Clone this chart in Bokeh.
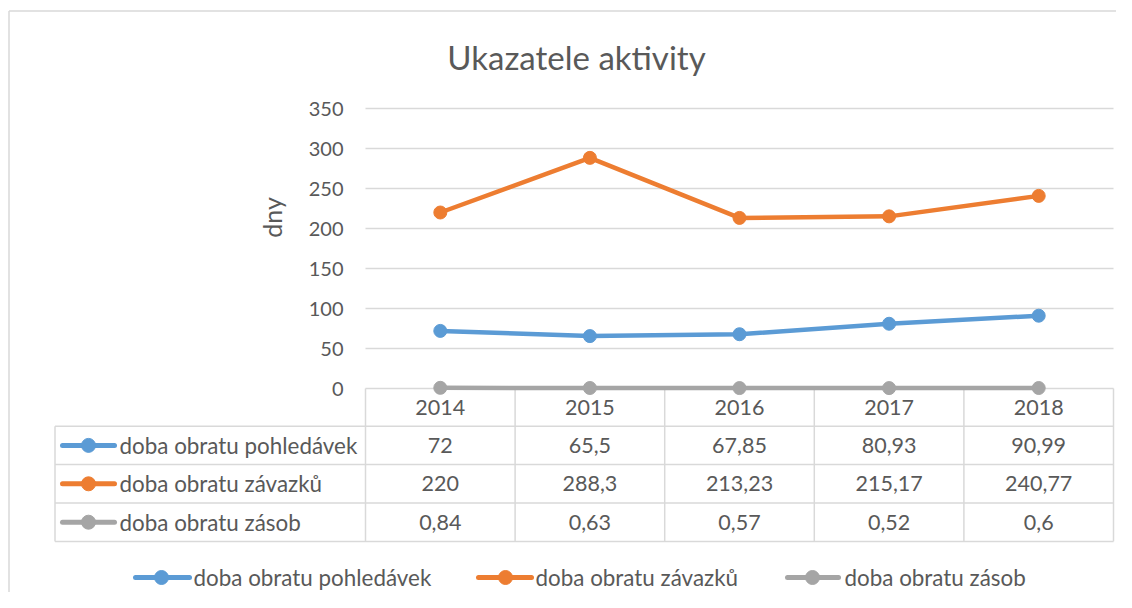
import math
from bokeh.plotting import figure
from bokeh.models import Range1d
from bokeh.core.properties import value
from bokeh.embed import file_html
from bokeh.resources import INLINE

# ---------------- data ----------------
years = [2014, 2015, 2016, 2017, 2018]
year_labels = ["2014", "2015", "2016", "2017", "2018"]
series_names = ["doba obratu pohledávek", "doba obratu závazků", "doba obratu zásob"]
pohledavky = [72, 65.5, 67.85, 80.93, 90.99]
zavazky = [220, 288.3, 213.23, 215.17, 240.77]
zasoby = [0.84, 0.63, 0.57, 0.52, 0.6]
series_values = [pohledavky, zavazky, zasoby]
series_colors = ["#5b9bd5", "#ed7d31", "#a5a5a5"]
y_ticks = [0, 50, 100, 150, 200, 250, 300, 350]
title_text = "Ukazatele aktivity"
y_label = "dny"

# ---------------- layout (picture pixels) ----------------
W, H = 1116, 592
OX, OY = 0, 0
PLOT_L, PLOT_R = 365, 1113
Y0_PX, YTOP_PX = 388, 108
PX_PER_YEAR = (PLOT_R - PLOT_L) / len(years)
PX_PER_VAL = (Y0_PX - YTOP_PX) / (y_ticks[-1] - y_ticks[0])

def xd(px):
    return years[0] - 0.5 + (px - PLOT_L) / PX_PER_YEAR

def yd(py):
    return (Y0_PX - py) / PX_PER_VAL

FONT = value("Lato")
TXT = "#595959"
GRID = "#d9d9d9"

p = figure(width=W, height=H, output_backend="svg", toolbar_location=None,
           x_range=Range1d(xd(OX), xd(OX + W)), y_range=Range1d(yd(OY + H), yd(OY)),
           x_axis_location=None, y_axis_location=None, min_border=0)
p.grid.visible = False
p.outline_line_color = None
p.background_fill_color = "white"
p.border_fill_color = "white"

# outer chart border (left and top visible)
p.segment(x0=[xd(8.5), xd(8.5)], y0=[yd(10.5), yd(10.5)],
          x1=[xd(8.5), xd(OX + W + 5)], y1=[yd(OY + H + 5), yd(10.5)],
          line_color=GRID, line_width=1.5)

# title
p.text(x=[xd(576)], y=[yd(56)], text=[title_text], text_font=FONT, text_font_size="33px",
       text_color=TXT, text_align="center", text_baseline="middle")

# y grid and tick labels
x_lo, x_hi = years[0] - 0.5, years[-1] + 0.5
p.segment(x0=[x_lo] * len(y_ticks), y0=y_ticks, x1=[x_hi] * len(y_ticks), y1=y_ticks,
          line_color=GRID, line_width=1.5)
p.text(x=[x_lo] * len(y_ticks), y=y_ticks, text=[str(t) for t in y_ticks], x_offset=-22,
       text_font=FONT, text_font_size="20px", text_color=TXT,
       text_align="right", text_baseline="middle")

# y axis label
p.text(x=[xd(271)], y=[yd(217)], text=[y_label], angle=math.pi / 2,
       text_font=FONT, text_font_size="25px", text_color=TXT,
       text_align="center", text_baseline="middle")

# ---------------- data table ----------------
ROW_TOP = 425.7
ROW_H = 38.4
TABLE_L = 54.5
rows_y = [ROW_TOP + ROW_H * k for k in range(len(series_names) + 1)]
bottom_y = rows_y[-1]
# horizontal lines of series rows
p.segment(x0=[xd(TABLE_L)] * len(rows_y), y0=[yd(r) for r in rows_y],
          x1=[x_hi] * len(rows_y), y1=[yd(r) for r in rows_y],
          line_color=GRID, line_width=1.5)
# vertical lines
col_edges = [y - 0.5 for y in years] + [x_hi]
p.segment(x0=col_edges, y0=[0] * len(col_edges), x1=col_edges, y1=[yd(bottom_y)] * len(col_edges),
          line_color=GRID, line_width=1.5)
p.segment(x0=[xd(TABLE_L)], y0=[yd(ROW_TOP)], x1=[xd(TABLE_L)], y1=[yd(bottom_y)],
          line_color=GRID, line_width=1.5)
# header years
p.text(x=years, y=[yd(407)] * len(years), text=year_labels, text_font=FONT,
       text_font_size="21.5px", text_color=TXT, text_align="center", text_baseline="middle")

def fmt(v):
    return f"{v:g}".replace(".", ",")

for k, (name, vals, col) in enumerate(zip(series_names, series_values, series_colors)):
    cy = yd(ROW_TOP + ROW_H * (k + 0.5))
    p.segment(x0=[xd(62)], y0=[cy], x1=[xd(114)], y1=[cy], line_color=col, line_width=5,
              line_cap="round")
    p.scatter(x=[xd(88)], y=[cy], size=14, fill_color=col, line_color=col)
    p.text(x=[xd(119)], y=[cy], text=[name], text_font=FONT, text_font_size="22.4px",
           text_color=TXT, text_align="left", text_baseline="middle")
    p.text(x=years, y=[cy] * len(years), text=[fmt(v) for v in vals], text_font=FONT,
           text_font_size="21.5px", text_color=TXT, text_align="center", text_baseline="middle")

# ---------------- series lines ----------------
for vals, col in zip(series_values, series_colors):
    p.line(x=years, y=vals, line_color=col, line_width=4.5, line_join="round", line_cap="round")
    p.scatter(x=years, y=vals, size=13, fill_color=col, line_color=col)

# ---------------- bottom legend ----------------
LEG_Y = yd(577)
leg_keys = [(135, 189, 161, 193), (478, 531, 505, 535), (787, 838, 812, 844)]
for (x0, x1, xm, xt), name, col in zip(leg_keys, series_names, series_colors):
    p.segment(x0=[xd(x0)], y0=[LEG_Y], x1=[xd(x1)], y1=[LEG_Y], line_color=col, line_width=5,
              line_cap="round")
    p.scatter(x=[xd(xm)], y=[LEG_Y], size=14, fill_color=col, line_color=col)
    p.text(x=[xd(xt)], y=[LEG_Y], text=[name], text_font=FONT, text_font_size="22.4px",
           text_color=TXT, text_align="left", text_baseline="middle")

open("out.html", "w").write(file_html(p, INLINE))
